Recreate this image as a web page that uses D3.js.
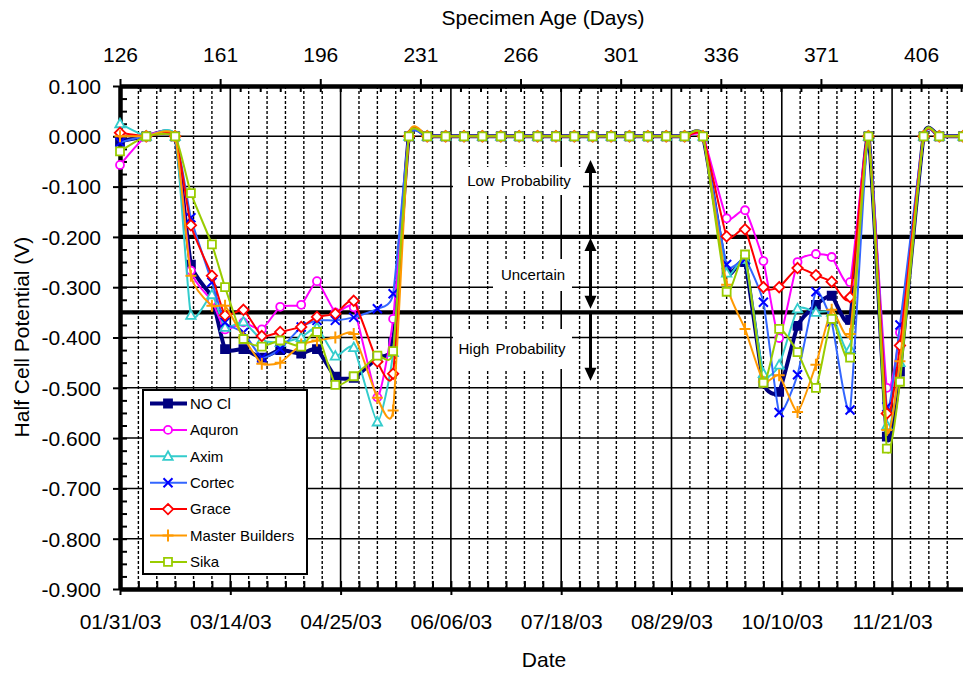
<!DOCTYPE html>
<html><head><meta charset="utf-8">
<script src="https://cdn.jsdelivr.net/npm/d3@7"></script>
<style>
body{margin:0;background:#fff;}
svg{display:block;font-family:"Liberation Sans",Arial,sans-serif;}
</style></head><body>
<svg id="c" width="963" height="675"></svg>
<script>
// ---------------- DATA ----------------
const dates = [
  "01/31/03","02/10/03","02/21/03","02/27/03","03/07/03","03/12/03","03/19/03","03/26/03",
  "04/02/03","04/10/03","04/16/03","04/23/03","04/30/03","05/09/03","05/15/03",
  "05/21/03","05/28/03","06/04/03","06/11/03","06/18/03","06/25/03","07/02/03","07/09/03",
  "07/16/03","07/23/03","07/30/03","08/06/03","08/13/03","08/20/03","08/27/03","09/03/03","09/10/03",
  "09/19/03","09/26/03","10/03/03","10/09/03","10/16/03","10/23/03","10/29/03","11/05/03",
  "11/12/03","11/19/03","11/24/03","12/03/03","12/09/03","12/18/03"
];
const seriesNames = ["NO Cl","Aquron","Axim","Cortec","Grace","Master Builders","Sika"];
const noCl = [-0.010,0,0,-0.255,-0.320,-0.423,-0.423,-0.440,-0.425,-0.432,-0.423,-0.478,-0.480,-0.440,-0.410,
  0,0,0,0,0,0,0,0,0,0,0,0,0,0,0,0,0,
  -0.270,-0.250,-0.490,-0.508,-0.377,-0.335,-0.317,-0.365,0,-0.597,-0.468,0,0,0];
const aquron = [-0.057,0,0,-0.267,-0.327,-0.384,-0.370,-0.384,-0.339,-0.335,-0.288,-0.350,-0.340,-0.519,-0.363,
  0,0,0,0,0,0,0,0,0,0,0,0,0,0,0,0,0,
  -0.163,-0.147,-0.248,-0.401,-0.250,-0.234,-0.240,-0.290,0,-0.500,-0.390,0,0,0];
const axim = [0.025,0,0,-0.356,-0.315,-0.380,-0.369,-0.405,-0.410,-0.400,-0.380,-0.437,-0.420,-0.568,-0.430,
  0,0,0,0,0,0,0,0,0,0,0,0,0,0,0,0,0,
  -0.272,-0.245,-0.472,-0.455,-0.343,-0.350,-0.350,-0.423,0,-0.575,-0.450,0,0,0];
const cortec = [-0.012,0,0,-0.162,-0.290,-0.370,-0.390,-0.440,-0.423,-0.379,-0.366,-0.366,-0.360,-0.343,-0.313,
  0,0,0,0,0,0,0,0,0,0,0,0,0,0,0,0,0,
  -0.255,-0.245,-0.330,-0.549,-0.474,-0.309,-0.369,-0.544,0,-0.538,-0.375,0,0,0];
const grace = [0.007,0,0,-0.177,-0.277,-0.356,-0.345,-0.397,-0.389,-0.379,-0.359,-0.353,-0.327,-0.448,-0.472,
  0,0,0,0,0,0,0,0,0,0,0,0,0,0,0,0,0,
  -0.199,-0.185,-0.300,-0.300,-0.262,-0.276,-0.289,-0.320,0,-0.551,-0.416,0,0,0];
const masterBuilders = [0,0,0,-0.277,-0.337,-0.337,-0.400,-0.452,-0.450,-0.414,-0.406,-0.400,-0.393,-0.520,-0.545,
  0,0,0,0,0,0,0,0,0,0,0,0,0,0,0,0,0,
  -0.295,-0.383,-0.488,-0.475,-0.548,-0.454,-0.345,-0.393,0,-0.584,-0.447,0,0,0];
const sika = [-0.030,0,0,-0.113,-0.215,-0.300,-0.403,-0.418,-0.406,-0.418,-0.389,-0.494,-0.477,-0.436,-0.427,
  0,0,0,0,0,0,0,0,0,0,0,0,0,0,0,0,0,
  -0.309,-0.235,-0.490,-0.383,-0.429,-0.500,-0.363,-0.440,0,-0.621,-0.488,0,0,0];

const bottomTickLabels = ["01/31/03","03/14/03","04/25/03","06/06/03","07/18/03","08/29/03","10/10/03","11/21/03"];
const topTickValues = [126,161,196,231,266,301,336,371,406];
const yTickValues = [0.1,0,-0.1,-0.2,-0.3,-0.4,-0.5,-0.6,-0.7,-0.8,-0.9];
const yTickLabels = ["0.100","0.000","-0.100","-0.200","-0.300","-0.400","-0.500","-0.600","-0.700","-0.800","-0.900"];
const thresholds = [-0.2,-0.35];
const zoneLabels = ["Low Probability","Uncertain","High Probability"];

// ---------------- SETUP ----------------
const svg = d3.select("#c");
const FONT = "Liberation Sans, Arial, sans-serif";
const L = 120, R = 984, T = 86, B = 589;
const parse = d3.utcParse("%m/%d/%y");
const X = d3.scaleUtc().domain([parse("01/31/03"), parse("12/26/03")]).range([L, R]);
const XT = d3.scaleLinear().domain([126, 428]).range([L, R]);
const Y = d3.scaleLinear().domain([-0.9, 0.1]).range([B, T]);

svg.append("rect").attr("width",963).attr("height",675).attr("fill","#fff");

const start = parse("01/31/03"), end = X.domain()[1];
const weekly = [];
for (let d = start; d <= end; d = d3.utcDay.offset(d, 7)) weekly.push(d);
const majorDates = bottomTickLabels.map(parse);
const isMajor = d => majorDates.some(m => +m === +d);

const grid = svg.append("g");
grid.selectAll("line.v").data(weekly).join("line")
  .attr("x1", d => X(d)).attr("x2", d => X(d)).attr("y1", T).attr("y2", B)
  .attr("stroke", "#000")
  .attr("stroke-width", d => isMajor(d) ? 1.6 : 1.4)
  .attr("stroke-dasharray", d => isMajor(d) ? null : "3,2");
grid.selectAll("line.h").data(yTickValues.slice(1, -1)).join("line")
  .attr("x1", L).attr("x2", R).attr("y1", d => Y(d)).attr("y2", d => Y(d))
  .attr("stroke", "#000").attr("stroke-width", 1.5);
grid.selectAll("line.t").data(thresholds).join("line")
  .attr("x1", L).attr("x2", R).attr("y1", d => Y(d)).attr("y2", d => Y(d))
  .attr("stroke", "#000").attr("stroke-width", 4.2);

const zoneBoxes = [
  {x0:453, x1:583, y0:167, y1:195, cx:519, cy:181},
  {x0:493, x1:572, y0:259, y1:291, cx:533, cy:275},
  {x0:453, x1:572, y0:329, y1:369, cx:512, cy:349}
];
const zg = svg.append("g");
zoneLabels.forEach((t, i) => {
  const b = zoneBoxes[i];
  zg.append("rect").attr("x", b.x0).attr("y", b.y0).attr("width", b.x1 - b.x0).attr("height", b.y1 - b.y0).attr("fill", "#fff");
  zg.append("text").attr("x", b.cx).attr("y", b.cy).attr("dy", "0.35em")
    .attr("text-anchor", "middle").attr("font-size", 15).attr("font-family", FONT)
    .attr("word-spacing", 2).text(t);
});

const ax = 590.5;
function head(x, tip, dir) {
  const base = tip - dir * 13;
  return `M${x},${tip}L${x - 6},${base}L${x + 6},${base}Z`;
}
const ag = svg.append("g");
const arrowSegs = [
  {top: Y(-0.047), bot: Y(-0.2), up: true, down: false},
  {top: Y(-0.2) + 1, bot: Y(-0.343), up: true, down: true},
  {top: Y(-0.35), bot: Y(-0.486), up: false, down: true}
];
arrowSegs.forEach(s => {
  ag.append("line").attr("x1", ax).attr("x2", ax)
    .attr("y1", s.top + (s.up ? 10 : 0)).attr("y2", s.bot - (s.down ? 10 : 0))
    .attr("stroke", "#000").attr("stroke-width", 3);
  if (s.up) ag.append("path").attr("d", head(ax, s.top, -1)).attr("fill", "#000");
  if (s.down) ag.append("path").attr("d", head(ax, s.bot, 1)).attr("fill", "#000");
});

// ---------------- AXES ----------------
function styleAxis(g, w) {
  g.select(".domain").attr("stroke", "#000").attr("stroke-width", w);
  g.selectAll(".tick line").attr("stroke", "#000").attr("stroke-width", 2);
  g.selectAll("text").attr("font-size", 21).attr("font-family", FONT).attr("fill", "#000");
}
const yMinor = d3.range(0, 41).map(i => -0.9 + i * 0.025);
const gLm = svg.append("g").attr("transform", `translate(${L},0)`)
  .call(d3.axisLeft(Y).tickValues(yMinor).tickSize(-7).tickSizeOuter(0).tickFormat(""));
styleAxis(gLm, 4);
const gL = svg.append("g").attr("transform", `translate(${L},0)`)
  .call(d3.axisLeft(Y).tickValues(yTickValues).tickSize(7).tickSizeOuter(0)
    .tickFormat((d, i) => yTickLabels[i]));
styleAxis(gL, 4);
gL.selectAll("text").attr("x", -19).attr("dy", "0.35em");

const gBm = svg.append("g").attr("transform", `translate(0,${B})`)
  .call(d3.axisBottom(X).tickValues(weekly).tickSize(-8).tickSizeOuter(0).tickFormat(""));
styleAxis(gBm, 4);
const gB = svg.append("g").attr("transform", `translate(0,${B})`)
  .call(d3.axisBottom(X).tickValues(majorDates).tickSize(6).tickSizeOuter(0)
    .tickFormat((d, i) => bottomTickLabels[i]));
styleAxis(gB, 4);
gB.selectAll("text").attr("y", 33).attr("dy", "0.35em");

const topMinor = d3.range(126, 428, 7);
const gTm = svg.append("g").attr("transform", `translate(0,${T})`)
  .call(d3.axisTop(XT).tickValues(topMinor).tickSize(-6).tickSizeOuter(0).tickFormat(""));
styleAxis(gTm, 4);
const gT = svg.append("g").attr("transform", `translate(0,${T})`)
  .call(d3.axisTop(XT).tickValues(topTickValues).tickSize(7).tickSizeOuter(0));
styleAxis(gT, 4);
gT.selectAll("text").attr("y", -31).attr("dy", "0.35em");

svg.append("text").attr("x", 543).attr("y", 18).attr("dy", "0.35em").attr("text-anchor", "middle")
  .attr("font-size", 21).attr("font-family", FONT).text("Specimen Age (Days)");
svg.append("text").attr("x", 544).attr("y", 660).attr("dy", "0.35em").attr("text-anchor", "middle")
  .attr("font-size", 21).attr("font-family", FONT).text("Date");
svg.append("text").attr("transform", "translate(22,337) rotate(-90)").attr("dy", "0.35em")
  .attr("text-anchor", "middle").attr("font-size", 21).attr("font-family", FONT).text("Half Cell Potential (V)");

// ---------------- SERIES ----------------
const shapes = {
  square: "M-4,-4H4V4H-4Z",
  circle: "M4,0A4,4 0 1,1 -4,0A4,4 0 1,1 4,0Z",
  triangle: "M0,-5L4.7,3.5L-4.7,3.5Z",
  x: "M-4.5,-4.5L4.5,4.5M-4.5,4.5L4.5,-4.5",
  diamond: "M0,-5.2L5.2,0L0,5.2L-5.2,0Z",
  plus: "M-5.5,0H5.5M0,-6V6"
};
const styles = [
  {values: noCl, line: "#000080", mark: "#000080", w: 4, shape: "square", fill: "#000080"},
  {values: aquron, line: "#FF00FF", mark: "#FF00FF", w: 2, shape: "circle", fill: "#fff"},
  {values: axim, line: "#33CCCC", mark: "#33CCCC", w: 2, shape: "triangle", fill: "#fff"},
  {values: cortec, line: "#3366FF", mark: "#0000FF", w: 2, shape: "x", fill: "none"},
  {values: grace, line: "#FF0000", mark: "#FF0000", w: 2, shape: "diamond", fill: "#fff"},
  {values: masterBuilders, line: "#FF9900", mark: "#FF9900", w: 2, shape: "plus", fill: "none"},
  {values: sika, line: "#99CC00", mark: "#99CC00", w: 2, shape: "square", fill: "#fff"}
];
const parsedDates = dates.map(parse);
const lineGen = d3.line().x(d => X(d.date)).y(d => Y(d.v)).curve(d3.curveCardinal.tension(0.5));
const sg = svg.append("g");
styles.forEach(s => {
  const pts = s.values.map((v, i) => ({date: parsedDates[i], v}));
  sg.append("path").attr("d", lineGen(pts)).attr("fill", "none")
    .attr("stroke", s.line).attr("stroke-width", s.w).attr("stroke-linejoin", "round");
  sg.append("g").selectAll("path").data(pts).join("path")
    .attr("transform", d => `translate(${X(d.date)},${Y(d.v)})`)
    .attr("d", shapes[s.shape]).attr("fill", s.fill)
    .attr("stroke", s.mark).attr("stroke-width", s.shape === "x" || s.shape === "plus" ? 2 : 1.8);
});

// ---------------- LEGEND ----------------
const lg = svg.append("g");
lg.append("rect").attr("x", 143).attr("y", 390).attr("width", 164).attr("height", 184)
  .attr("fill", "#fff").attr("stroke", "#000").attr("stroke-width", 2);
seriesNames.forEach((name, i) => {
  const s = styles[i];
  const yy = 403.5 + i * 26.4;
  lg.append("line").attr("x1", 150).attr("x2", 187).attr("y1", yy).attr("y2", yy)
    .attr("stroke", s.line).attr("stroke-width", s.w);
  lg.append("path").attr("transform", `translate(168,${yy})`).attr("d", shapes[s.shape])
    .attr("fill", s.fill).attr("stroke", s.mark)
    .attr("stroke-width", s.shape === "x" || s.shape === "plus" ? 2 : 1.8);
  lg.append("text").attr("x", 190).attr("y", yy).attr("dy", "0.35em")
    .attr("font-size", 15).attr("font-family", FONT).text(name);
});
</script>
</body></html>
